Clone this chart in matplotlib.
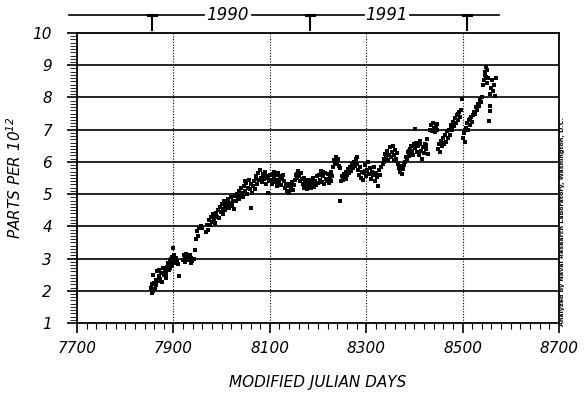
import matplotlib as mpl
mpl.use( 'Agg' )
import matplotlib.pyplot as plt
from matplotlib.ticker import MultipleLocator

# modified julian day (minus 40000) and mixing ratio
days = [
  7853, 7855, 7856, 7857, 7858, 7860, 7862, 7864, 7866, 7867, 7869, 7871, 7873, 7875, 7877, 7879,
  7881, 7883, 7885, 7887, 7889, 7890, 7892, 7894, 7895, 7896, 7897, 7898, 7899, 7900, 7901, 7902,
  7904, 7906, 7908, 7912, 7919, 7921, 7923, 7925, 7927, 7929, 7931, 7933, 7935, 7937, 7939, 7942,
  7944, 7947, 7948, 7950, 7958, 7960,
  7968, 7970, 7972, 7974, 7976, 7978, 7980, 7982, 7984, 7986, 7988, 7990, 7992, 7994,
  7996, 7998, 8000, 8002, 8004, 8006, 8008, 8010, 8012, 8014, 8016, 8018, 8020, 8022, 8024, 8026, 8028,
  8030, 8032, 8034, 8036, 8038, 8040, 8042, 8044, 8046, 8048, 8050, 8052, 8054, 8056, 8058, 8060, 8062, 8064,
  8066, 8068, 8070, 8072, 8074, 8076, 8078, 8080, 8082, 8084, 8086, 8088, 8090, 8092, 8094, 8096, 8098,
  8100, 8102, 8104, 8106, 8108, 8110, 8112, 8114, 8116, 8118, 8120, 8122, 8124, 8126, 8128, 8130,
  8132, 8134, 8136, 8138, 8140, 8142, 8144, 8146, 8148, 8150, 8152,
  8154, 8156, 8158, 8160, 8162, 8164, 8166,
  8168, 8170, 8172, 8174, 8176, 8178, 8180, 8182, 8184, 8186, 8188, 8190, 8192, 8194, 8196, 8198,
  8200, 8202, 8204, 8206, 8208, 8210, 8212, 8214, 8216, 8218, 8220, 8222, 8224, 8226, 8228,
  8231, 8233, 8235, 8237, 8239, 8241, 8243, 8245, 8246,
  8248, 8250, 8252, 8254, 8256, 8258, 8260, 8262, 8264, 8266, 8268, 8270, 8272, 8274, 8276, 8278, 8280, 8282,
  8284, 8286, 8288, 8290, 8292, 8294, 8296, 8298, 8300, 8302, 8304, 8306, 8308, 8310, 8312, 8314, 8316, 8318,
  8320, 8322, 8324, 8326, 8328, 8330,
  8334, 8336, 8338, 8340, 8342, 8344, 8346, 8348, 8350, 8352, 8354, 8356, 8358, 8360, 8362, 8364,
  8366, 8368, 8370, 8372, 8374, 8376, 8378, 8380,
  8382, 8384, 8386, 8388, 8390, 8392, 8394, 8396, 8398, 8400, 8401, 8402, 8404, 8406,
  8408, 8410, 8412, 8414, 8416, 8418, 8420, 8422, 8424, 8426, 8428,
  8432, 8434, 8436, 8438, 8440, 8442, 8444, 8446, 8448,
  8450, 8452, 8454, 8456, 8458, 8460, 8462, 8464, 8466, 8468, 8470,
  8472, 8474, 8476, 8478, 8480, 8482, 8484, 8486, 8488, 8490, 8492, 8494, 8496, 8498,
  8501, 8503, 8505,
  8508, 8510, 8512, 8514, 8516, 8518, 8520, 8522,
  8524, 8526, 8528, 8530, 8532, 8534, 8536, 8538, 8540,
  8543, 8545, 8546, 8548, 8549, 8550, 8551, 8553,
  8555, 8557, 8557, 8558, 8560, 8562, 8564, 8566, 8568, 8570,
  # extra scattered readings
  7863, 7884, 7893, 7903, 7910, 7936, 7953, 7985, 8003, 8019, 8037, 8049, 8071, 8085, 8097,
  8109, 8121, 8143, 8157, 8177, 8191, 8211, 8229, 8259, 8279, 8297, 8313, 8343, 8357, 8375,
  8389, 8411, 8425, 8443, 8459, 8477, 8491, 8515, 8531, 8547
]

ppt = [
  2.10, 1.92, 2.20, 2.50, 1.98, 2.25, 2.05, 2.35, 2.60, 2.30, 2.45, 2.65, 2.38, 2.55, 2.28, 2.70,
  2.50, 2.62, 2.40, 2.75, 2.85, 2.65, 2.95, 2.80, 3.00, 2.88, 2.78, 3.05, 2.92, 3.33, 2.85, 3.10,
  2.95, 3.02, 2.90, 2.47, 2.95, 3.10, 3.05, 2.90, 3.15, 3.00, 3.08, 2.95, 3.12, 3.02, 2.92, 3.00,
  3.27, 3.60, 3.85, 3.70, 4.00, 3.95,
  3.82, 4.05, 3.90, 4.20, 4.05, 4.30, 4.12, 4.38, 4.22, 4.10, 4.40, 4.30, 4.50, 4.25,
  4.60, 4.45, 4.70, 4.55, 4.80, 4.62, 4.50, 4.75, 4.68, 4.85, 4.58, 4.72, 4.90, 4.65, 4.80, 4.55, 4.95,
  4.78, 5.00, 4.88, 5.10, 4.95, 5.20, 5.05, 4.90, 5.25, 5.10, 5.35, 5.00, 5.20, 5.45, 5.15, 5.30, 4.57, 5.05,
  5.25, 5.40, 5.15, 5.55, 5.30, 5.65, 5.45, 5.75, 5.50, 5.38, 5.62, 5.48, 5.70, 5.30, 5.55, 5.04, 5.40,
  5.60, 5.45, 5.30, 5.62, 5.50, 5.38, 5.58, 5.25, 5.45, 5.65, 5.35, 5.52, 5.28, 5.48, 5.60, 5.40,
  5.20, 5.32, 5.10, 5.25, 5.05, 5.30, 5.18, 5.38, 5.12, 5.28, 5.45,
  5.60, 5.50, 5.72, 5.55, 5.40, 5.65, 5.48,
  5.30, 5.50, 5.20, 5.42, 5.28, 5.15, 5.38, 5.25, 5.45, 5.18, 5.32, 5.50, 5.22, 5.40, 5.28, 5.55,
  5.35, 5.60, 5.45, 5.72, 5.38, 5.55, 5.30, 5.65, 5.48, 5.40, 5.62, 5.35, 5.52, 5.70, 5.42,
  5.85, 6.05, 5.92, 6.15, 5.98, 6.10, 5.88, 5.80, 4.79,
  5.40, 5.55, 5.45, 5.62, 5.50, 5.70, 5.58, 5.78, 5.65, 5.85, 5.72, 5.92, 5.80, 6.00, 5.88, 6.08, 5.95, 6.15,
  5.75, 5.60, 5.85, 5.50, 5.70, 5.45, 5.65, 5.90, 5.55, 5.75, 6.00, 5.62, 5.80, 5.48, 5.70, 5.58, 5.85, 5.40,
  5.65, 5.52, 5.26, 5.75, 5.60, 5.85,
  5.95, 6.10, 6.00, 6.25, 6.12, 6.35, 6.05, 6.22, 6.45, 6.15, 6.30, 6.50, 6.20, 6.38, 6.10, 6.28,
  5.95, 5.80, 5.70, 5.88, 5.62, 5.78, 5.90, 6.00,
  6.15, 6.05, 6.30, 6.18, 6.40, 6.25, 6.50, 6.35, 6.20, 6.55, 7.01, 6.42, 6.60, 6.30,
  6.50, 6.20, 6.65, 6.35, 6.10, 6.45, 6.28, 6.55, 6.40, 6.70, 6.25,
  7.00, 7.15, 6.95, 7.20, 7.05, 6.92, 7.10, 7.18, 7.00,
  6.40, 6.55, 6.32, 6.65, 6.48, 6.75, 6.55, 6.85, 6.62, 6.95, 6.75,
  7.00, 6.85, 7.15, 6.98, 7.25, 7.10, 7.35, 7.20, 7.45, 7.30, 7.55, 7.40, 7.62, 7.94,
  6.75, 6.90, 6.62,
  7.05, 7.20, 7.00, 7.30, 7.15, 7.40, 7.25, 7.45,
  7.55, 7.50, 7.70, 7.62, 7.80, 7.75, 7.92, 7.85, 8.02,
  8.40, 8.55, 8.80, 8.95, 8.65, 8.45, 8.85, 8.60,
  7.27, 7.58, 7.73, 8.10, 8.30, 8.55, 8.20, 8.40, 8.05, 8.60,
  2.18, 2.52, 2.72, 2.98, 2.82, 2.85, 3.95, 4.32, 4.38, 4.62, 4.85, 5.42, 5.48, 5.58, 5.50,
  5.70, 5.55, 5.15, 5.62, 5.45, 5.38, 5.68, 5.55, 5.48, 5.95, 5.72, 5.62, 6.30, 6.05, 5.85,
  6.35, 6.55, 6.52, 6.98, 6.60, 7.05, 7.48, 7.32, 7.68, 8.70
]

year_marks = [ 7855, 8184, 8509 ]
year_names = [ '1990', '1991' ]
year_name_x = [ 8013, 8343 ]

mpl.rcParams.update({
  'font.family': 'DejaVu Sans',
  'font.style': 'italic',
  'font.size': 11,
  'mathtext.fontset': 'dejavusans',
  'mathtext.default': 'it'
})

fig = plt.figure( figsize = ( 5.84, 4.0 ), dpi = 100 )
ax = fig.add_axes( [ 0.132, 0.1925, 0.825, 0.725 ] )

ax.plot( days, ppt, 's', color = 'black', markersize = 2.6, markeredgewidth = 0 )

ax.set_xlim( 7700, 8700 )
ax.set_ylim( 1, 10 )
ax.set_xticks( [ 7700, 7900, 8100, 8300, 8500, 8700 ] )
ax.set_yticks( range( 1, 11 ) )
ax.xaxis.set_minor_locator( MultipleLocator( 20 ) )
ax.yaxis.set_minor_locator( MultipleLocator( 0.1 ) )
ax.tick_params( which = 'major', length = 7, width = 1.2, pad = 6, colors = 'black' )
ax.tick_params( which = 'minor', length = 4, width = 0.8 )
ax.tick_params( axis = 'y', which = 'minor', length = 5, width = 0.6 )
ax.tick_params( axis = 'y', which = 'major', pad = 11 )

for s in ax.spines.values():
  s.set_linewidth( 1.3 )

for v in range( 2, 10 ):
  ax.axhline( v, color = 'black', linewidth = 1.2, zorder = 1 )
for d in [ 7900, 8100, 8300, 8500 ]:
  ax.axvline( d, color = 'black', linewidth = 0.8, linestyle = ( 0, ( 1, 1.5 ) ), zorder = 1 )

ax.set_xlabel( 'MODIFIED JULIAN DAYS', labelpad = 14 )
ax.set_ylabel( 'PARTS PER $10^{12}$', labelpad = 6 )

# year bar above the plot
tr = ax.get_xaxis_transform()
bar_y = 1.062
segs = [ ( 7684, 7963 ), ( 8063, 8296 ), ( 8390, 8576 ) ]
for a, b in segs:
  ax.plot( [ a, b ], [ bar_y, bar_y ], color = 'black', linewidth = 1.2, transform = tr, clip_on = False )
for m in year_marks:
  ax.plot( [ m, m ], [ bar_y, 1.012 ], color = 'black', linewidth = 1.5, transform = tr, clip_on = False )
  ax.plot( [ m - 8, m + 8 ], [ bar_y, bar_y ], color = 'black', linewidth = 2.2, transform = tr, clip_on = False )
for n, x in zip( year_names, year_name_x ):
  ax.text( x, bar_y, n, transform = tr, ha = 'center', va = 'center', fontsize = 12 )

fig.text( 0.964, 0.445, 'Analyzed by Naval Research Laboratory, Washington, D.C.',
  rotation = 90, ha = 'center', va = 'center', fontsize = 4.6, fontweight = 'bold', style = 'normal' )

fig.savefig( 'out.png', dpi = 100 )
